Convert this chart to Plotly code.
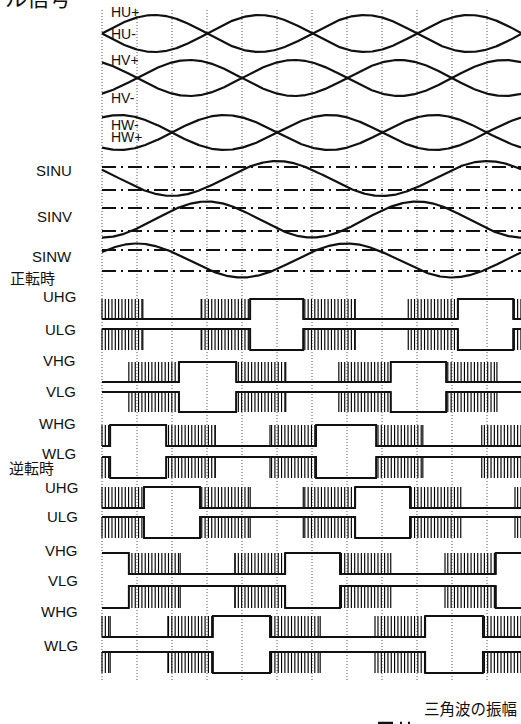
import numpy as np
import plotly.graph_objects as go

# ---------------- data (electrical degrees; 0 deg = first dotted line) ----------------
grid_deg = [0, 60, 120, 180, 240, 300, 360, 420, 480, 540, 600, 660]

# Hall sensor signals: zero-crossing phase of each +/- pair
hall_labels_a = ["HU+", "HV+", "HW-"]
hall_labels_b = ["HU-", "HV-", "HW+"]
hall_phase_deg = [0, 60, 120]

# Sine command signals: phase of the positive peak, amplitude relative to triangle amplitude
sin_labels = ["SINU", "SINV", "SINW"]
sin_peak_deg = [300, 180, 60]
sin_mod_ratio = [1.52, 1.57, 1.62]

# Gate signals: state of the high-side gate between edges (P = PWM, H = on, L = off)
fwd_u_edges = [70, 170, 254, 345, 434, 525, 610, 705]
fwd_u_states = "PLPHPLPHP"
fwd_v_edges = [46, 132, 230, 315, 406, 495, 590, 677]
fwd_v_states = "LPHPLPHPL"
fwd_w_edges = [14, 110, 194, 288, 367, 470, 550, 651]
fwd_w_states = "PHPLPHPLP"

rev_u_edges = [72, 168, 254, 345, 434, 528, 615, 708]
rev_u_states = "PHPLPHPLP"
rev_v_edges = [46, 134, 228, 314, 408, 495, 588, 675]
rev_v_states = "HPLPHPLPH"
rev_w_edges = [14, 113, 190, 288, 374, 468, 554, 653]
rev_w_states = "PLPHPLPHP"

pwm_pitch_deg = 5.7

gate_labels = ["UHG", "ULG", "VHG", "VLG", "WHG", "WLG"]

# ---------------- layout (pixel geometry) ----------------
W, H = 521, 724
X0_PX = 102.0
PX_PER_DEG = 35.0 / 60.0


def d(px):
    return (px - X0_PX) / PX_PER_DEG


X_MIN = d(0)
X_MAX = d(W)

hall_rows = [(33.5, 18.5), (78.0, 18.0), (132.5, 17.5)]          # centre, amplitude (px)
hall_lab_a_y = [12.5, 60, 125]
hall_lab_b_y = [34, 98, 137]

sin_rows = [(178.5, 11.5), (219.5, 11.5), (260.5, 10.5)]           # centre, band half-width
sin_lab_y = [170, 216, 256]

fwd_levels = [(299, 319), (329, 350), (362, 382), (392, 412), (425, 446), (457, 478)]
fwd_lab_y = [297, 329, 360, 391, 423, 453]
rev_levels = [(487, 508), (517, 538), (553, 574), (586, 608), (616, 637), (652, 673)]
rev_lab_y = [487, 516, 550, 580, 611, 645]

INK = "#111111"
fig = go.Figure()

# dotted time grid
gx, gy = [], []
for g in grid_deg:
    gx += [g, g, None]
    gy += [10, 680, None]
fig.add_trace(go.Scatter(x=gx, y=gy, mode="lines",
                         line=dict(color="#555555", width=1, dash="1px,2px"),
                         hoverinfo="skip"))

theta = np.linspace(0, X_MAX, 900)

# Hall signals
for (c, a), ph in zip(hall_rows, hall_phase_deg):
    s = np.sin(np.radians(theta - ph))
    for sign in (1, -1):
        fig.add_trace(go.Scatter(x=theta, y=c - sign * a * s, mode="lines",
                                 line=dict(color=INK, width=2.2), hoverinfo="skip"))

# triangle amplitude bands (dash-dot) and sine commands
for (c, hw), pk, m in zip(sin_rows, sin_peak_deg, sin_mod_ratio):
    for yy in (c - hw, c + hw):
        fig.add_trace(go.Scatter(x=[0, X_MAX], y=[yy, yy], mode="lines",
                                 line=dict(color=INK, width=2, dash="14px,5px,2px,5px"),
                                 hoverinfo="skip"))
    s = np.cos(np.radians(theta - pk))
    fig.add_trace(go.Scatter(x=theta, y=c - m * hw * s, mode="lines",
                             line=dict(color=INK, width=2.2), hoverinfo="skip"))


def gate(edges, states, hi, lo, low_side):
    bounds = [0] + list(edges) + [X_MAX]
    if low_side:
        lvl = {"H": lo, "L": hi, "P": hi}
    else:
        lvl = {"H": hi, "L": lo, "P": lo}
    xs, ys = [], []
    cx, cy = [], []
    for i, st in enumerate(states):
        a, b = bounds[i], bounds[i + 1]
        y = lvl[st]
        if xs and ys[-1] != y:
            xs.append(a)
            ys.append(y)
        xs += [a, b]
        ys += [y, y]
        if st == "P":
            k0 = int(np.ceil(a / pwm_pitch_deg))
            pos = [k * pwm_pitch_deg for k in range(k0, int(b / pwm_pitch_deg) + 1)]
            if a > 0:
                pos.append(a)
            if b < X_MAX:
                pos.append(b)
            for p in pos:
                cx += [p, p, None]
                cy += [lo, hi, None]
    fig.add_trace(go.Scatter(x=cx, y=cy, mode="lines",
                             line=dict(color="#000000", width=1.15), hoverinfo="skip"))
    fig.add_trace(go.Scatter(x=xs, y=ys, mode="lines",
                             line=dict(color=INK, width=1.9), hoverinfo="skip"))


fwd_sets = [(fwd_u_edges, fwd_u_states), (fwd_v_edges, fwd_v_states), (fwd_w_edges, fwd_w_states)]
rev_sets = [(rev_u_edges, rev_u_states), (rev_v_edges, rev_v_states), (rev_w_edges, rev_w_states)]
for sets, levels in ((fwd_sets, fwd_levels), (rev_sets, rev_levels)):
    for j, (e, s) in enumerate(sets):
        hi, lo = levels[2 * j]
        gate(e, s, hi, lo, False)
        hi, lo = levels[2 * j + 1]
        gate(e, s, hi, lo, True)

# legend sample line at bottom (cut off)
fig.add_trace(go.Scatter(x=[d(378), d(414)], y=[723, 723], mode="lines",
                         line=dict(color=INK, width=2.5, dash="15px,7px,2px,6px,2px,20px"),
                         hoverinfo="skip"))

ann = []
LAT = "Liberation Sans, Arial, sans-serif"
JP = "Noto Sans CJK JP, sans-serif"


def lab(text, xpx, ypx, size=15, anchor="right", font=LAT):
    ann.append(dict(text=text, x=xpx / W, y=1 - ypx / H, xref="paper", yref="paper",
                    showarrow=False, xanchor=anchor, yanchor="middle",
                    font=dict(family=font, size=size, color=INK)))


for t, yy in zip(hall_labels_a, hall_lab_a_y):
    lab(t, 109, yy, size=14, anchor="left")
for t, yy in zip(hall_labels_b, hall_lab_b_y):
    lab(t, 109, yy, size=14, anchor="left")
for t, yy in zip(sin_labels, sin_lab_y):
    lab(t, 74, yy)
for t, yy in zip(gate_labels, fwd_lab_y):
    lab(t, 78, yy)
for t, yy in zip(gate_labels, rev_lab_y):
    lab(t, 80, yy)
lab("正転時", 8, 277, size=15, anchor="left", font=JP)
lab("逆転時", 7, 467, size=15, anchor="left", font=JP)
lab("ホール信号", 73, -4, size=22, font=JP)
lab("三角波の振幅", 422, 708, size=15.5, anchor="left", font=JP)

fig.update_layout(
    width=W, height=H, margin=dict(l=0, r=0, t=0, b=0),
    paper_bgcolor="white", plot_bgcolor="white", showlegend=False,
    xaxis=dict(range=[X_MIN, X_MAX], visible=False, fixedrange=True),
    yaxis=dict(range=[H, 0], visible=False, fixedrange=True),
    annotations=ann,
)
fig.write_html("out.html", config={"displayModeBar": False},
               post_script="document.body.style.margin='0';document.body.style.overflow='hidden';")
